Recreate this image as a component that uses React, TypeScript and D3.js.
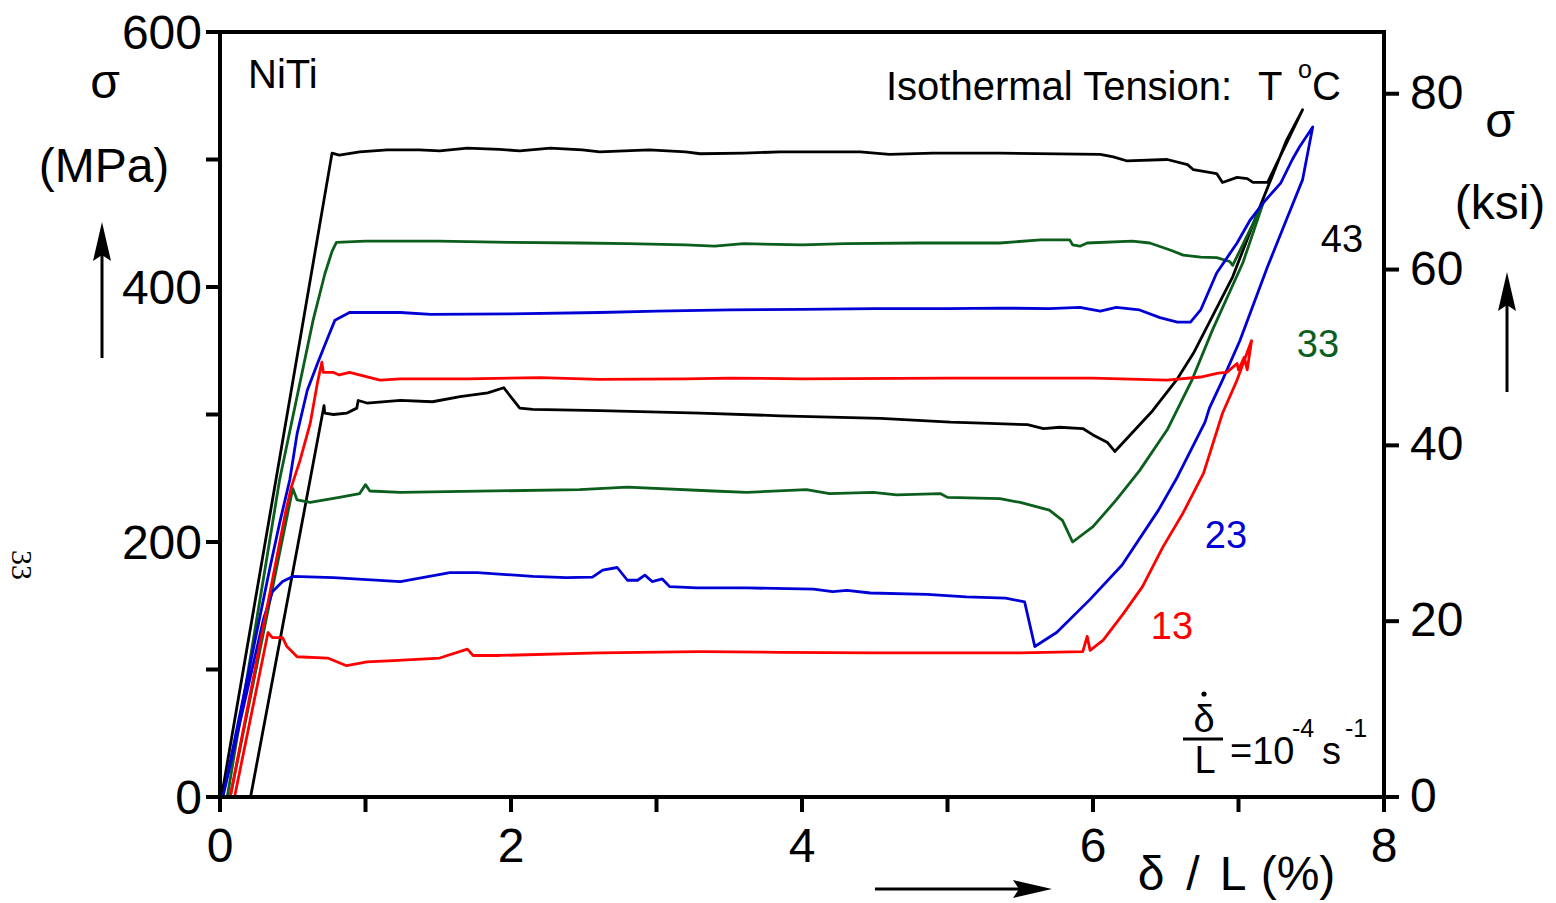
import React from "react";
import * as d3 from "d3";

type P = [number, number];

// strain (%) , stress (MPa)
const curve43: P[] = [
  [0.01, 0], [0.77, 505], [0.82, 503.5], [0.96, 506], [1.15, 507.5], [1.37, 507.5], [1.51, 506.7], [1.70, 509],
  [1.92, 508], [2.06, 506.7], [2.27, 509], [2.49, 507.5], [2.61, 506], [2.95, 507.5], [3.2, 506], [3.3, 504.5],
  [3.6, 505], [3.85, 506], [4.4, 506], [4.6, 504], [4.9, 505], [5.36, 505], [6.05, 504], [6.14, 502], [6.23, 499],
  [6.51, 500], [6.65, 496], [6.69, 492], [6.85, 489], [6.89, 482], [6.99, 486], [7.06, 485], [7.10, 482],
  [7.20, 482], [7.44, 539], [7.33, 515], [7.13, 458], [6.96, 408], [6.69, 348], [6.58, 328], [6.41, 303],
  [6.15, 271], [6.10, 278], [6.0, 284], [5.93, 289], [5.77, 290], [5.66, 289], [5.55, 292], [5.29, 293],
  [5.02, 294], [4.54, 297], [3.85, 299], [3.3, 301], [2.61, 303], [2.15, 304], [2.06, 305], [1.95, 321],
  [1.84, 317], [1.65, 314], [1.46, 310], [1.24, 311], [1.01, 309], [0.95, 311], [0.94, 305], [0.87, 301],
  [0.78, 300], [0.72, 301], [0.715, 307], [0.21, 0],
];

const curve33: P[] = [
  [0.05, 0], [0.32, 186], [0.41, 249], [0.64, 374], [0.72, 410], [0.77, 428], [0.80, 435], [1.0, 436],
  [1.5, 436], [2.0, 435], [2.47, 434.5], [2.8, 434], [3.2, 433], [3.4, 432], [3.6, 434], [4.0, 433],
  [4.3, 434], [4.8, 434.5], [5.36, 434.5], [5.64, 437], [5.84, 437], [5.86, 433], [5.91, 432], [5.96, 434.5],
  [6.27, 436], [6.39, 434.5], [6.53, 429], [6.62, 425], [6.74, 423.5], [6.85, 423], [6.94, 420], [6.96, 417],
  [7.17, 466], [7.03, 419], [6.82, 366], [6.68, 327], [6.51, 288], [6.32, 256], [6.16, 233], [6.0, 212],
  [5.86, 200], [5.79, 217], [5.70, 225], [5.50, 231], [5.36, 234], [5.0, 235], [4.95, 238], [4.65, 237],
  [4.49, 239], [4.19, 238], [4.03, 241], [3.62, 239], [3.39, 240], [2.80, 243], [2.47, 241], [1.24, 239],
  [1.03, 240], [1.0, 245], [0.96, 238], [0.82, 235], [0.62, 231], [0.53, 233], [0.50, 242], [0.40, 186],
  [0.07, 0],
];

const curve23: P[] = [
  [0.02, 0], [0.34, 178], [0.41, 215], [0.48, 249], [0.53, 285], [0.60, 319], [0.67, 340], [0.74, 360],
  [0.79, 374], [0.89, 380], [1.24, 380], [1.45, 378.5], [2.0, 379], [2.61, 380], [3.0, 381], [3.5, 382],
  [4.0, 382.5], [4.5, 383], [5.0, 383], [5.36, 383.5], [5.70, 383], [5.91, 384], [6.05, 381], [6.16, 384],
  [6.32, 382], [6.46, 376], [6.58, 372.5], [6.67, 372.5], [6.74, 382], [6.85, 411], [6.99, 434.5],
  [7.08, 452.5], [7.17, 466], [7.29, 481.5], [7.37, 500], [7.42, 510], [7.51, 525.5], [7.44, 484],
  [7.33, 453], [7.20, 416], [7.01, 358], [6.89, 327], [6.80, 305], [6.77, 294], [6.58, 251], [6.45, 225],
  [6.20, 182], [5.98, 155], [5.75, 129], [5.60, 118], [5.53, 153], [5.40, 156], [5.13, 157], [4.86, 159],
  [4.47, 160], [4.31, 162], [4.21, 161], [4.08, 163], [3.62, 164], [3.28, 164], [3.09, 165], [3.04, 171],
  [2.97, 169], [2.92, 174], [2.87, 170], [2.80, 170], [2.73, 180], [2.63, 178], [2.56, 172.5], [2.38, 172],
  [2.15, 173], [1.77, 176], [1.58, 176], [1.24, 169], [0.78, 172], [0.50, 173], [0.43, 169], [0.36, 161],
  [0.30, 140], [0.02, 0],
];

const curve13: P[] = [
  [0.07, 0], [0.45, 223], [0.49, 243], [0.55, 264], [0.62, 293], [0.67, 325], [0.70, 341], [0.71, 333],
  [0.78, 333], [0.82, 331], [0.89, 333], [1.10, 327], [1.24, 328], [1.70, 328], [2.2, 329], [2.61, 327.5],
  [3.2, 328], [3.5, 328.5], [4.0, 328], [5.0, 328.5], [5.5, 328.5], [6.0, 328.6], [6.51, 327],
  [6.74, 329.4], [6.86, 332.5], [6.92, 333], [6.99, 340], [7.0, 335], [7.04, 345], [7.06, 335],
  [7.09, 358], [6.99, 327], [6.89, 301], [6.76, 254], [6.62, 223], [6.48, 196], [6.34, 165], [6.21, 144],
  [6.07, 123], [5.98, 115], [5.96, 126], [5.93, 114], [5.5, 113], [5.02, 113], [4.5, 113], [3.85, 113.5],
  [3.3, 114], [2.61, 113], [1.92, 111], [1.74, 111], [1.70, 116], [1.51, 109], [1.19, 107], [1.01, 106],
  [0.87, 103], [0.74, 109], [0.53, 110], [0.46, 118], [0.43, 125], [0.36, 125], [0.33, 129], [0.10, 0],
];

const seriesColors = ["#000000", "#0b5e1c", "#0000d6", "#ff0000"];
const seriesLabels = ["43", "33", "23", "13"];

const xTicks = [0, 1, 2, 3, 4, 5, 6, 7, 8];
const xTickLabels = [0, 2, 4, 6, 8];
const yTicks = [0, 100, 200, 300, 400, 500, 600];
const yTickLabels = [0, 200, 400, 600];
const ksiTicks = [0, 20, 40, 60, 80];

const MPA_PER_KSI = 6.894757;

export default function App() {
  const W = 1556, H = 903;
  const left = 220, right = 1384, top = 32, bottom = 797;
  const x = d3.scaleLinear().domain([0, 8]).range([left, right]);
  const y = d3.scaleLinear().domain([0, 600]).range([bottom, top]);
  const yKsi = d3.scaleLinear().domain([0, 600 / MPA_PER_KSI]).range([bottom, top]);
  const line = d3.line<P>().x(d => x(d[0])).y(d => y(d[1]));
  const curves = [curve43, curve33, curve23, curve13];
  const font = "'Liberation Sans', Arial, Helvetica, sans-serif";

  const labelPos: { x: number; y: number }[] = [
    { x: 1342, y: 252 }, { x: 1318, y: 357 }, { x: 1226, y: 548 }, { x: 1172, y: 639 },
  ];

  return (
    <svg width={W} height={H} style={{ position: "absolute", left: 0, top: 0, background: "#fff" }} fontFamily={font}>
      <rect x={0} y={0} width={W} height={H} fill="#fff" />
      {curves.map((c, i) => (
        <path key={i} d={line(c) || ""} fill="none" stroke={seriesColors[i]} strokeWidth={2.8} strokeLinejoin="round" />
      ))}
      <g stroke="#000" strokeWidth={4} fill="none">
        <line x1={left} y1={top} x2={right} y2={top} />
        <line x1={left} y1={top - 2} x2={left} y2={bottom + 2} />
        <line x1={right} y1={top - 2} x2={right} y2={bottom + 2} />
        <line x1={left - 2} y1={bottom} x2={right + 2} y2={bottom} />
        {yTicks.map(t => <line key={"yt" + t} x1={left - 14} x2={left} y1={y(t)} y2={y(t)} />)}
        {xTicks.map(t => <line key={"xt" + t} x1={x(t)} x2={x(t)} y1={bottom} y2={bottom + 15} />)}
        {ksiTicks.map(t => <line key={"kt" + t} x1={right} x2={right + 15} y1={yKsi(t)} y2={yKsi(t)} />)}
      </g>
      <g fontSize={48} fill="#000">
        {yTickLabels.map(t => <text key={"yl" + t} x={202} y={y(t) + 17} textAnchor="end">{t}</text>)}
        {xTickLabels.map(t => <text key={"xl" + t} x={x(t)} y={862} textAnchor="middle">{t}</text>)}
        {ksiTicks.map(t => <text key={"kl" + t} x={1410} y={yKsi(t) + 15} textAnchor="start">{t}</text>)}
      </g>
      <g fontSize={48} fill="#000" textAnchor="middle">
        <text x={105} y={98}>σ</text>
        <text x={104} y={182}>(MPa)</text>
        <text x={1500} y={137}>σ</text>
        <text x={1500} y={219}>(ksi)</text>
        <text x={1151} y={890}>δ</text>
        <text x={1193} y={890}>/</text>
        <text x={1233} y={890}>L</text>
        <text x={1298} y={890}>(%)</text>
      </g>
      <g stroke="#000" strokeWidth={3} fill="#000">
        <line x1={102} y1={358} x2={102} y2={250} />
        <path d="M102,222 L111,261 L102,255 L93,261 Z" stroke="none" />
        <line x1={1507} y1={392} x2={1507} y2={300} />
        <path d="M1507,272 L1516,311 L1507,305 L1498,311 Z" stroke="none" />
        <line x1={875} y1={889} x2={1025} y2={889} />
        <path d="M1052,889 L1013,880 L1019,889 L1013,898 Z" stroke="none" />
      </g>
      <g fontSize={40} fill="#000">
        <text x={248} y={88}>NiTi</text>
        <text x={886} y={100}>Isothermal Tension:</text>
        <text x={1258} y={100}>T</text>
        <text x={1298} y={78} fontSize={25}>o</text>
        <text x={1312} y={100}>C</text>
      </g>
      {seriesLabels.map((l, i) => (
        <text key={"sl" + i} x={labelPos[i].x} y={labelPos[i].y} fontSize={38} textAnchor="middle" fill={seriesColors[i]}>{l}</text>
      ))}
      <g fill="#000">
        <circle cx={1204} cy={694} r={2.6} />
        <text x={1204} y={732} fontSize={38} textAnchor="middle">δ</text>
        <line x1={1183} x2={1223} y1={739} y2={739} stroke="#000" strokeWidth={3} />
        <text x={1205} y={773} fontSize={38} textAnchor="middle">L</text>
        <text x={1230} y={764} fontSize={38}>=10</text>
        <text x={1292} y={737} fontSize={25}>-4</text>
        <text x={1322} y={764} fontSize={38}>s</text>
        <text x={1345} y={737} fontSize={25}>-1</text>
      </g>
      <text x={12} y={550} fontSize={30} fontFamily="'Liberation Serif', 'Times New Roman', serif" transform="rotate(90 12 550)">33</text>
    </svg>
  );
}
